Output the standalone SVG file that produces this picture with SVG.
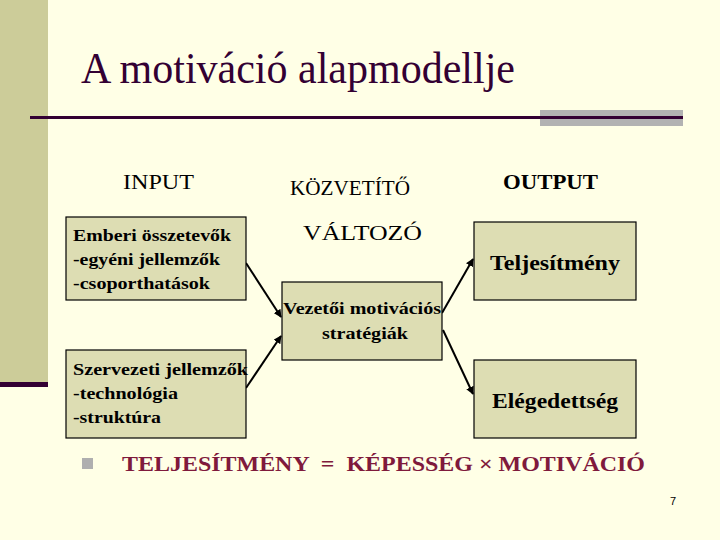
<svg xmlns="http://www.w3.org/2000/svg" width="720" height="540" viewBox="0 0 720 540">
<style>
.box{fill:#DDDDB3;stroke:#000;stroke-width:1.2}
.serif{font-family:'Liberation Serif','Times New Roman',serif;fill:#000}
.b{font-weight:bold}
.lbl{font-size:17px;font-weight:bold}
.big{font-size:20px;font-weight:bold}
.conn{stroke:#000;stroke-width:2;fill:none;marker-end:url(#ah)}
</style>
<defs>
<marker id="ah" viewBox="0 0 10 10" refX="9" refY="5" markerWidth="4" markerHeight="4" orient="auto" markerUnits="strokeWidth">
<path d="M0,0 L10,5 L0,10 z" fill="#000"/>
</marker>
</defs>
<rect width="720" height="540" fill="#FFFFE6"/>
<rect x="0" y="0" width="48" height="383" fill="#CCCC99"/>
<rect x="0" y="382" width="48" height="5" fill="#330033"/>
<rect x="540" y="110" width="143" height="16" fill="#B2B2B2"/>
<rect x="30" y="116" width="653" height="3" fill="#330033"/>
<text x="81" y="83" font-family="'Liberation Serif','Times New Roman',serif" font-size="44" fill="#330033" textLength="434" lengthAdjust="spacingAndGlyphs">A motiváció alapmodellje</text>
<text x="123" y="189" class="serif" font-size="20" textLength="71" lengthAdjust="spacingAndGlyphs">INPUT</text>
<text x="290" y="195" class="serif" font-size="20" textLength="120" lengthAdjust="spacingAndGlyphs">KÖZVETÍTŐ</text>
<text x="303" y="240" class="serif" font-size="20" textLength="119" lengthAdjust="spacingAndGlyphs">VÁLTOZÓ</text>
<text x="503" y="189" class="serif b" font-size="20" textLength="95" lengthAdjust="spacingAndGlyphs">OUTPUT</text>
<g id="connectors">
<line class="conn" x1="246" y1="263" x2="281" y2="317"/>
<line class="conn" x1="246" y1="388" x2="281" y2="336"/>
<line class="conn" x1="442" y1="313" x2="473" y2="259"/>
<line class="conn" x1="443" y1="330" x2="473" y2="394"/>
</g>
<g id="emberi">
<rect class="box" x="66" y="217" width="180" height="83"/>
<text class="serif lbl" x="73" y="241" textLength="158" lengthAdjust="spacingAndGlyphs">Emberi összetevők</text>
<text class="serif lbl" x="73" y="265" textLength="147" lengthAdjust="spacingAndGlyphs">-egyéni jellemzők</text>
<text class="serif lbl" x="73" y="289" textLength="137" lengthAdjust="spacingAndGlyphs">-csoporthatások</text>
</g>
<g id="szervezeti">
<rect class="box" x="66" y="350" width="180" height="88"/>
<text class="serif lbl" x="73" y="375" textLength="175" lengthAdjust="spacingAndGlyphs">Szervezeti jellemzők</text>
<text class="serif lbl" x="73" y="399" textLength="105" lengthAdjust="spacingAndGlyphs">-technológia</text>
<text class="serif lbl" x="73" y="423" textLength="88" lengthAdjust="spacingAndGlyphs">-struktúra</text>
</g>
<g id="vezetoi">
<rect class="box" x="282" y="282" width="160" height="78"/>
<text class="serif lbl" x="362" y="314" text-anchor="middle" textLength="158" lengthAdjust="spacingAndGlyphs">Vezetői motivációs</text>
<text class="serif lbl" x="365" y="339" text-anchor="middle" textLength="86" lengthAdjust="spacingAndGlyphs">stratégiák</text>
</g>
<g id="teljesitmeny">
<rect class="box" x="474" y="222" width="162" height="78"/>
<text class="serif big" x="555" y="270" text-anchor="middle" textLength="130" lengthAdjust="spacingAndGlyphs">Teljesítmény</text>
</g>
<g id="elegedettseg">
<rect class="box" x="474" y="360" width="162" height="78"/>
<text class="serif big" x="555" y="408" text-anchor="middle" textLength="126" lengthAdjust="spacingAndGlyphs">Elégedettség</text>
</g>
<rect x="82" y="458" width="11" height="11" fill="#AFAFAF"/>
<text x="122" y="471" font-family="'Liberation Serif','Times New Roman',serif" font-size="20" font-weight="bold" fill="#7F1A3C" textLength="523" lengthAdjust="spacingAndGlyphs" xml:space="preserve">TELJESÍTMÉNY  =  KÉPESSÉG × MOTIVÁCIÓ</text>
<text x="670" y="505" font-family="'Liberation Sans',Arial,sans-serif" font-size="11" fill="#000">7</text>
</svg>
